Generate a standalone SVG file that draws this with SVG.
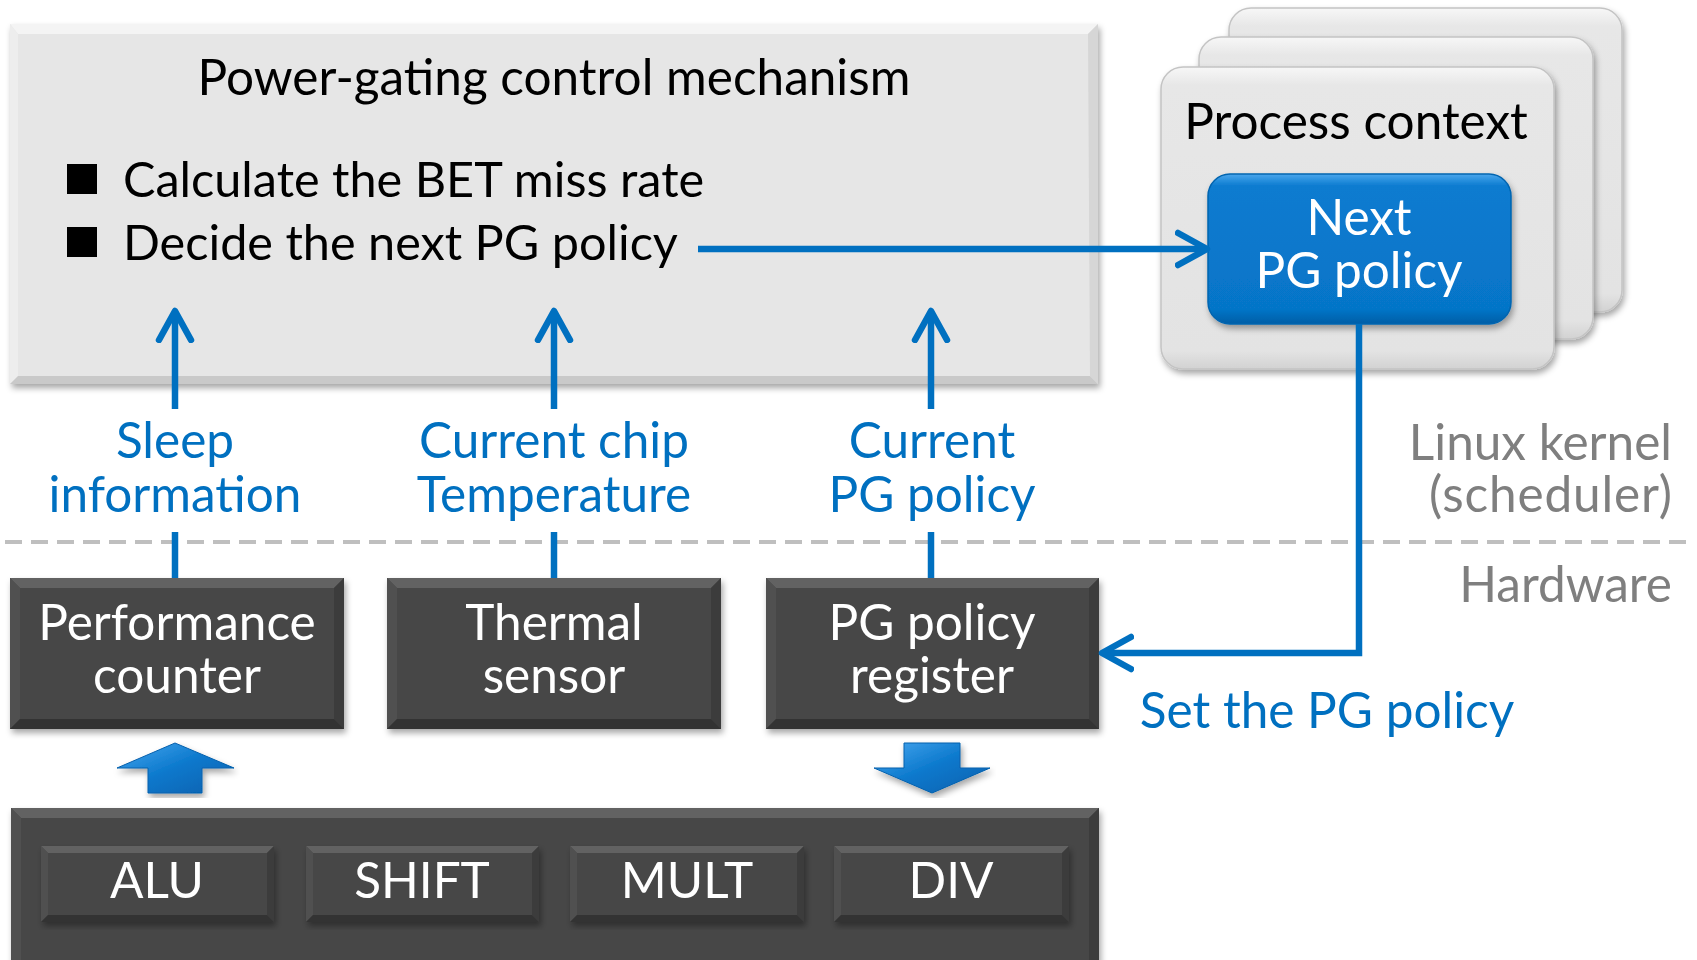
<svg xmlns="http://www.w3.org/2000/svg" width="1697" height="960" viewBox="0 0 1697 960">
<style>
.t{font-family:Lato,"Liberation Sans",sans-serif;font-size:49.5px}
.b{font-size:48.6px}
.c{text-anchor:middle}
.e{text-anchor:end}
.blk{fill:#000}
.blu{fill:#0070c0}
.wht{fill:#fff}
.gry{fill:#7f7f7f}
.ln{stroke:#0070c0;stroke-width:6.5;fill:none}
.arr{marker-end:url(#chev)}
.dface{fill:#474747}
.dtop{fill:#626262}
.dleft{fill:#505050}
.dright{fill:#3c3c3c}
.dbot{fill:#333}
.lface{fill:#e6e6e6}
.ltop{fill:#f4f4f4}
.lleft{fill:#ededed}
.lright{fill:#d6d6d6}
.lbot{fill:#c9c9c9}
.pc{fill:url(#pcg);stroke:#c4c4c4;stroke-width:1.5}
</style>
<defs>
<filter id="sh" x="-5%" y="-5%" width="110%" height="115%">
<feDropShadow dx="2" dy="4" stdDeviation="3" flood-color="#000" flood-opacity="0.35"/>
</filter>
<linearGradient id="pcg" x1="0" y1="0" x2="0" y2="1">
<stop offset="0" stop-color="#f7f7f7"/>
<stop offset="0.06" stop-color="#e7e7e7"/>
<stop offset="0.94" stop-color="#e3e3e3"/>
<stop offset="1" stop-color="#d2d2d2"/>
</linearGradient>
<linearGradient id="blg" x1="0" y1="0" x2="0" y2="1">
<stop offset="0" stop-color="#4aa6ec"/>
<stop offset="0.08" stop-color="#0a7bd0"/>
<stop offset="0.9" stop-color="#0675c8"/>
<stop offset="1" stop-color="#055ea6"/>
</linearGradient>
<linearGradient id="bag" x1="0" y1="0" x2="1" y2="1">
<stop offset="0" stop-color="#4aa8f0"/>
<stop offset="0.5" stop-color="#0a78cc"/>
<stop offset="1" stop-color="#0660ad"/>
</linearGradient>
<marker id="chev" markerUnits="userSpaceOnUse" viewBox="0 0 40 40" markerWidth="40" markerHeight="40" refX="30" refY="20" orient="auto">
<path d="M3,4 L32,20 L3,36" fill="none" stroke="#0070c0" stroke-width="6.5" stroke-linecap="round" stroke-linejoin="round"/>
</marker>
</defs>
<rect width="1697" height="960" fill="#fff"/>

<g id="pg-control">
<g filter="url(#sh)">
<rect class="lface" x="10" y="24" width="1088" height="360"/>
</g>
<polygon class="ltop" points="10,24 1098,24 1088,34 18,34"/>
<polygon class="lleft" points="10,24 18,34 18,376 10,384"/>
<polygon class="lright" points="1098,24 1098,384 1090,376 1088,34"/>
<polygon class="lbot" points="10,384 18,376 1090,376 1098,384"/>
<text class="t c blk" x="554" y="95">Power-gating control mechanism</text>
<rect x="67" y="164" width="30" height="30" fill="#000"/>
<rect x="67" y="227" width="30" height="30" fill="#000"/>
<text class="t b blk" x="123" y="197">Calculate the BET miss rate</text>
<text class="t b blk" x="123" y="260">Decide the next PG policy</text>
</g>

<g id="process-context">
<rect class="pc" x="1229" y="8" width="393" height="304" rx="22" filter="url(#sh)"/>
<rect class="pc" x="1199" y="37" width="394" height="302" rx="22" filter="url(#sh)"/>
<rect class="pc" x="1161" y="67" width="393" height="302" rx="22" filter="url(#sh)"/>
<text class="t c blk" x="1356" y="139">Process context</text>
</g>

<g id="next-pg-policy">
<rect x="1208" y="174" width="303" height="150" rx="22" fill="url(#blg)" stroke="#0565b0" stroke-width="1.5" filter="url(#sh)"/>
<text class="t c wht" x="1359" y="235">Next</text>
<text class="t c wht" x="1359" y="288">PG policy</text>
</g>

<g id="layer-labels">
<text class="t e gry" x="1672" y="460">Linux kernel</text>
<text class="t e gry" x="1672" y="512" textLength="243">(scheduler)</text>
<text class="t e gry" x="1672" y="602">Hardware</text>
<path d="M5,542 H1692" stroke="#bfbfbf" stroke-width="4" stroke-dasharray="17 9" fill="none"/>
</g>

<g id="performance-counter">
<rect class="dface" x="10" y="578" width="334" height="151" filter="url(#sh)"/>
<polygon class="dtop" points="10,578 344,578 334,588 20,588"/>
<polygon class="dleft" points="10,578 20,588 20,719 10,729"/>
<polygon class="dright" points="344,578 344,729 334,719 334,588"/>
<polygon class="dbot" points="10,729 20,719 334,719 344,729"/>
<text class="t c wht" x="177" y="640">Performance</text>
<text class="t c wht" x="177" y="693">counter</text>
</g>

<g id="thermal-sensor">
<rect class="dface" x="387" y="578" width="334" height="151" filter="url(#sh)"/>
<polygon class="dtop" points="387,578 721,578 711,588 397,588"/>
<polygon class="dleft" points="387,578 397,588 397,719 387,729"/>
<polygon class="dright" points="721,578 721,729 711,719 711,588"/>
<polygon class="dbot" points="387,729 397,719 711,719 721,729"/>
<text class="t c wht" x="554" y="640">Thermal</text>
<text class="t c wht" x="554" y="693">sensor</text>
</g>

<g id="pg-policy-register">
<rect class="dface" x="766" y="578" width="333" height="151" filter="url(#sh)"/>
<polygon class="dtop" points="766,578 1099,578 1089,588 776,588"/>
<polygon class="dleft" points="766,578 776,588 776,719 766,729"/>
<polygon class="dright" points="1099,578 1099,729 1089,719 1089,588"/>
<polygon class="dbot" points="766,729 776,719 1089,719 1099,729"/>
<text class="t c wht" x="932" y="640">PG policy</text>
<text class="t c wht" x="932" y="693">register</text>
</g>

<g id="functional-units">
<rect class="dface" x="11" y="808" width="1088" height="170" filter="url(#sh)"/>
<polygon class="dtop" points="11,808 1099,808 1089,818 21,818"/>
<polygon class="dleft" points="11,808 21,818 21,975 11,975"/>
<polygon class="dright" points="1099,808 1099,975 1089,975 1089,818"/>
<g id="alu">
<rect class="dface" x="41" y="846" width="233" height="76" filter="url(#sh)"/>
<polygon class="dtop" points="41,846 274,846 267,853 48,853"/>
<polygon class="dleft" points="41,846 48,853 48,915 41,922"/>
<polygon class="dright" points="274,846 274,922 267,915 267,853"/>
<polygon class="dbot" points="41,922 48,915 267,915 274,922"/>
<text class="t c wht" x="157" y="898">ALU</text>
</g>
<g id="shift">
<rect class="dface" x="306" y="846" width="233" height="76" filter="url(#sh)"/>
<polygon class="dtop" points="306,846 539,846 532,853 313,853"/>
<polygon class="dleft" points="306,846 313,853 313,915 306,922"/>
<polygon class="dright" points="539,846 539,922 532,915 532,853"/>
<polygon class="dbot" points="306,922 313,915 532,915 539,922"/>
<text class="t c wht" x="422" y="898">SHIFT</text>
</g>
<g id="mult">
<rect class="dface" x="570" y="846" width="234" height="76" filter="url(#sh)"/>
<polygon class="dtop" points="570,846 804,846 797,853 577,853"/>
<polygon class="dleft" points="570,846 577,853 577,915 570,922"/>
<polygon class="dright" points="804,846 804,922 797,915 797,853"/>
<polygon class="dbot" points="570,922 577,915 797,915 804,922"/>
<text class="t c wht" x="687" y="898">MULT</text>
</g>
<g id="div">
<rect class="dface" x="834" y="846" width="235" height="76" filter="url(#sh)"/>
<polygon class="dtop" points="834,846 1069,846 1062,853 841,853"/>
<polygon class="dleft" points="834,846 841,853 841,915 834,922"/>
<polygon class="dright" points="1069,846 1069,922 1062,915 1062,853"/>
<polygon class="dbot" points="834,922 841,915 1062,915 1069,922"/>
<text class="t c wht" x="951" y="898">DIV</text>
</g>
</g>

<g id="connectors">
<path class="ln arr" d="M175,409 V313"/>
<path class="ln arr" d="M554,409 V313"/>
<path class="ln arr" d="M931,409 V313"/>
<path class="ln" d="M175,532 V578"/>
<path class="ln" d="M554,532 V578"/>
<path class="ln" d="M931,532 V578"/>
<path class="ln arr" d="M698,249 H1205"/>
<path class="ln arr" d="M1359,324 V653 H1104"/>
<polygon points="175,743 234,768 202,768 202,793 148,793 148,768 117,768" fill="url(#bag)" stroke="#0660ad" stroke-width="1" filter="url(#sh)"/>
<polygon points="904,743 960,743 960,768 990,768 932,793 874,768 904,768" fill="url(#bag)" stroke="#0660ad" stroke-width="1" filter="url(#sh)"/>
</g>

<g id="connector-labels">
<text class="t c blu" x="175" y="458">Sleep</text>
<text class="t c blu" x="175" y="512">information</text>
<text class="t c blu" x="554" y="458">Current chip</text>
<text class="t c blu" x="554" y="512">Temperature</text>
<text class="t c blu" x="932" y="458">Current</text>
<text class="t c blu" x="932" y="512">PG policy</text>
<text class="t c blu" x="1327" y="728">Set the PG policy</text>
</g>
</svg>
